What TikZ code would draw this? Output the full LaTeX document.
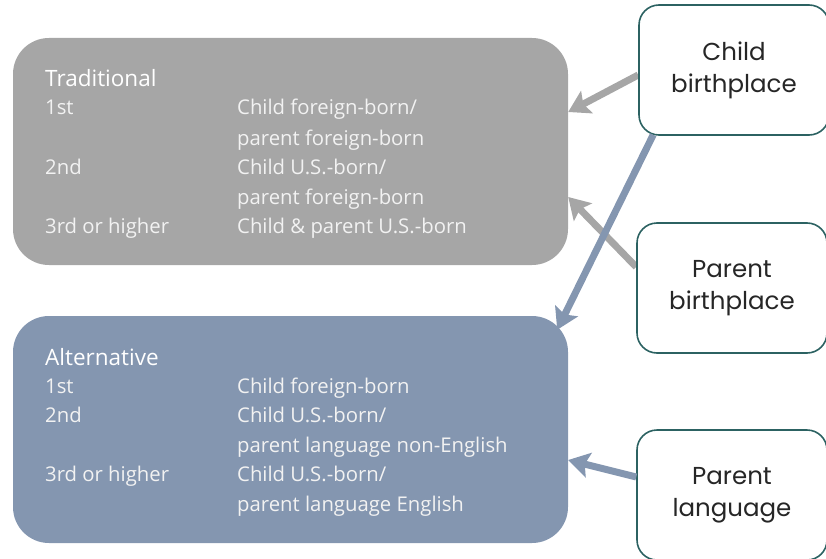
\documentclass[tikz,border=0pt]{standalone}
\usepackage{fontspec}
\setmainfont{Open Sans}
\newfontfamily\geofont{Poppins}
\usetikzlibrary{arrows.meta,backgrounds}
\definecolor{tradgray}{HTML}{A6A6A6}
\definecolor{altblue}{HTML}{8496B0}
\definecolor{tealborder}{HTML}{2C6262}
\definecolor{lighttext}{HTML}{F2F2F2}
\tikzset{
  bigbox/.style={rounded corners=36pt, minimum width=555pt, minimum height=227pt, inner sep=0pt},
  factor/.style={draw=tealborder, line width=1.6pt, fill=white, rounded corners=20pt, minimum width=190pt, minimum height=130pt, inner sep=0pt, align=center, font=\geofont\fontsize{24.5}{32}\selectfont, text=black!85},
  title/.style={anchor=base west, inner sep=0pt, text=white, font=\fontsize{22.5}{26}\selectfont},
  body/.style={anchor=base west, inner sep=0pt, text=lighttext, font=\fontsize{20.3}{23}\selectfont},
  grayarrow/.style={draw=tradgray, line width=7pt, -{Stealth[length=21pt,width=25pt,inset=4pt]}},
  bluearrow/.style={draw=altblue, line width=7pt, -{Stealth[length=21pt,width=25pt,inset=4pt]}}
}
\begin{document}
\begin{tikzpicture}[x=1pt,y=1pt]
\useasboundingbox (0,0) rectangle (826,558);
% main boxes
\node[bigbox, fill=tradgray] (trad) at (290.5,406.5) {};
\node[bigbox, fill=altblue] (alt) at (290.5,128.5) {};
% factor boxes
\node[factor] (cb) at (734,488) {Child\\birthplace};
\node[factor] (pb) at (732,270) {Parent\\birthplace};
\node[factor] (pl) at (732,63) {Parent\\language};
% traditional text
\node[title] (tt) at (45,471) {Traditional};
\node[body] (t1a) at (45,443) {1st};
\node[body] (t1b) at (237,443) {Child foreign-born/};
\node[body] (t1c) at (237,413) {parent foreign-born};
\node[body] (t2a) at (45,384) {2nd};
\node[body] (t2b) at (237,384) {Child U.S.-born/};
\node[body] (t2c) at (237,354) {parent foreign-born};
\node[body] (t3a) at (45,325) {3rd or higher};
\node[body] (t3b) at (237,325) {Child \& parent U.S.-born};
% alternative text
\node[title] (at) at (45,193) {Alternative};
\node[body] (a1a) at (45,165) {1st};
\node[body] (a1b) at (237,165) {Child foreign-born};
\node[body] (a2a) at (45,136) {2nd};
\node[body] (a2b) at (237,136) {Child U.S.-born/};
\node[body] (a2c) at (237,106) {parent language non-English};
\node[body] (a3a) at (45,77) {3rd or higher};
\node[body] (a3b) at (237,77) {Child U.S.-born/};
\node[body] (a3c) at (237,47) {parent language English};
% arrows
\begin{scope}[on background layer]
\draw[grayarrow] ([yshift=-5pt]cb.west) -- ([yshift=39.5pt]trad.east);
\draw[grayarrow] ([yshift=21pt]pb.west) -- ([yshift=-45.5pt]trad.east);
\end{scope}
\draw[bluearrow] ([xshift=15pt,yshift=1pt]cb.south west) -- ([xshift=-11pt,yshift=-14pt]alt.north east);
\draw[bluearrow] ([yshift=18pt]pl.west) -- ([yshift=-30.5pt]alt.east);
\end{tikzpicture}
\end{document}
